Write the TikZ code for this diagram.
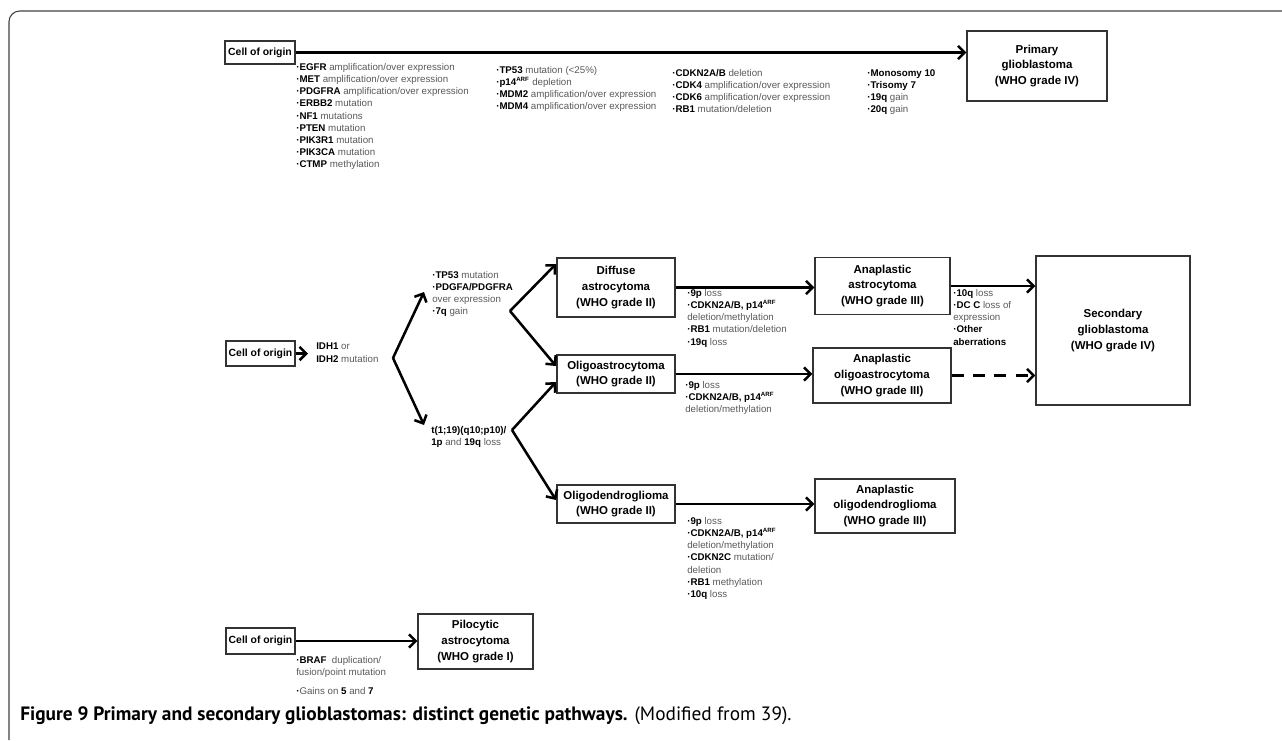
\documentclass[tikz,border=0pt]{standalone}
\usepackage{fontspec}
\setmainfont{Liberation Sans}
\newfontfamily\capfont{PT Sans}
\usepackage{tikz}
\usetikzlibrary{arrows.meta,positioning}
\newcommand{\gn}[1]{\textbf{\color{black}#1}}
\newcommand{\itm}{{\color{black}\textbf{·}}}
\newcommand{\arf}{\textsuperscript{\color{black}\bfseries\fontsize{4.6}{5}\selectfont ARF}}

\begin{document}
\begin{tikzpicture}[x=0.75pt, y=-0.75pt]
    \tikzset{box/.style = {draw=black!80, line width=0.9pt, fill=white, align=center, inner sep=0pt, font=\bfseries\fontsize{8.6}{11.8}\selectfont},
             cellbox/.style = {box, font=\bfseries\fontsize{7.8}{10}\selectfont},
             list/.style = {anchor=north west, align=left, inner sep=0pt, text=black!65, font=\fontsize{7.3}{9.15}\selectfont},
             arr/.style = {line width=1.9pt, -{Straight Barb[length=5pt, width=10pt]}}}
    \useasboundingbox (0,0) rectangle (1282,740);
    \draw[line width=0.8pt, black!75, rounded corners=8pt] (9,740) -- (9,11) -- (1282,11);
    %% primary glioblastoma
    \node[cellbox, minimum width=52.5pt, minimum height=17.25pt] (co1) at (260,52.5) {Cell of origin};
    \node[box, minimum width=105pt, minimum height=52.5pt] (pg) at (1037,66) {Primary\\glioblastoma\\(WHO grade IV)};
    \node[list] (la) at (296,63) {\itm\gn{EGFR} amplification/over expression\\ \itm\gn{MET} amplification/over expression\\
        \itm\gn{PDGFRA} amplification/over expression\\ \itm\gn{ERBB2} mutation\\ \itm\gn{NF1} mutations\\ \itm\gn{PTEN} mutation\\
        \itm\gn{PIK3R1} mutation\\ \itm\gn{PIK3CA} mutation\\ \itm\gn{CTMP} methylation};
    \node[list] (lb) at (496,66) {\itm\gn{TP53} mutation (<25\%)\\ \itm\gn{p14}\arf{} depletion\\
        \itm\gn{MDM2} amplification/over expression\\ \itm\gn{MDM4} amplification/over expression};
    \node[list] (lc) at (672,69) {\itm\gn{CDKN2A/B} deletion\\ \itm\gn{CDK4} amplification/over expression\\
        \itm\gn{CDK6} amplification/over expression\\ \itm\gn{RB1} mutation/deletion};
    \node[list] (ld) at (867,69) {\itm\gn{Monosomy 10}\\ \itm\gn{Trisomy 7}\\ \itm\gn{19q} gain\\ \itm\gn{20q} gain};
    \path[arr] (co1.east) edge (co1.east -| pg.west);
    %% secondary glioblastoma
    \node[cellbox, minimum width=51.75pt, minimum height=18.75pt] (co2) at (260.5,353.5) {Cell of origin};
    \node[list] (idh) at (316,343) {\gn{IDH1} or\\ \gn{IDH2} mutation};
    \node[list] (ltp) at (432,271) {\itm\gn{TP53} mutation\\ \itm\gn{PDGFA/PDGFRA}\\ over expression\\ \itm\gn{7q} gain};
    \node[list] (lt) at (431,426) {\gn{t(1;19)(q10;p10)/}\\ \gn{1p} and \gn{19q} loss};
    \node[box, minimum width=88.5pt, minimum height=44.25pt] (da) at (616,287.5) {Diffuse\\astrocytoma\\(WHO grade II)};
    \node[box, minimum width=101.25pt, minimum height=42.75pt] (aa) at (882.5,286) {Anaplastic\\astrocytoma\\(WHO grade III)};
    \node[box, minimum width=115.5pt, minimum height=111.75pt] (sg) at (1113,330.5) {Secondary\\glioblastoma\\(WHO grade IV)};
    \node[box, minimum width=88.5pt, minimum height=28.5pt] (oa) at (616,374) {Oligoastrocytoma\\(WHO grade II)};
    \node[box, minimum width=103.5pt, minimum height=41.25pt] (aoa) at (882,375.5) {Anaplastic\\oligoastrocytoma\\(WHO grade III)};
    \node[box, minimum width=88.5pt, minimum height=28.5pt] (od) at (616,504) {Oligodendroglioma\\(WHO grade II)};
    \node[box, minimum width=105pt, minimum height=40.5pt] (aod) at (885,506) {Anaplastic\\oligodendroglioma\\(WHO grade III)};
    \node[list] (l9a) at (687,289) {\itm\gn{9p} loss\\ \itm\gn{CDKN2A/B, p14}\arf\\ deletion/methylation\\
        \itm\gn{RB1} mutation/deletion\\ \itm\gn{19q} loss};
    \node[list] (l10) at (953,289) {\itm\gn{10q} loss\\ \itm\gn{DC C} loss of\\ expression\\ \itm\gn{Other}\\ \gn{aberrations}};
    \node[list] (l9b) at (685,381) {\itm\gn{9p} loss\\ \itm\gn{CDKN2A/B, p14}\arf\\ deletion/methylation};
    \node[list] (l9c) at (687,517) {\itm\gn{9p} loss\\ \itm\gn{CDKN2A/B, p14}\arf\\ deletion/methylation\\
        \itm\gn{CDKN2C} mutation/\\ deletion\\ \itm\gn{RB1} methylation\\ \itm\gn{10q} loss};
    \coordinate (v1) at (393,358);
    \coordinate (v1a) at (424,292);
    \coordinate (v1b) at (424,425);
    \coordinate (v2) at (510,311);
    \coordinate (v2a) at (556,264);
    \coordinate (v2b) at (556,366);
    \coordinate (v3) at (512,430);
    \coordinate (v3a) at (556,382);
    \coordinate (v3b) at (556,500);
    \path[arr]
    (co2.east) edge[shorten >=6pt] (co2.east -| idh.west)
    (v1) edge (v1a)  (v1) edge (v1b)
    (v2) edge (v2a)  (v2) edge (v2b)
    (v3) edge (v3a)  (v3) edge (v3b)
    (da.east) edge (da.east -| aa.west)
    (aa.east) edge (aa.east -| sg.west)
    (oa.east) edge (oa.east -| aoa.west)
    (aoa.east) edge[dash pattern=on 9pt off 7pt] (aoa.east -| sg.west)
    (od.east) edge (od.east -| aod.west);
    %% pilocytic astrocytoma
    \node[cellbox, minimum width=51.75pt, minimum height=19.5pt] (co3) at (260.5,641) {Cell of origin};
    \node[box, minimum width=86.25pt, minimum height=41.25pt] (pa) at (475.5,641.5) {Pilocytic\\astrocytoma\\(WHO grade I)};
    \node[list] (lbr) at (296,656) {\itm\gn{BRAF}\ \ duplication/\\ fusion/point mutation\\[5pt] \itm Gains on \gn{5} and \gn{7}};
    \path[arr] (co3.east) edge (co3.east -| pa.west);
    %% caption
    \node[anchor=base west, inner sep=0pt, font=\capfont\fontsize{14.5}{16}\selectfont] (cap) at (20,720)
        {\textbf{Figure 9 Primary and secondary glioblastomas: distinct genetic pathways.} (Modified from 39).};
\end{tikzpicture}
\end{document}
